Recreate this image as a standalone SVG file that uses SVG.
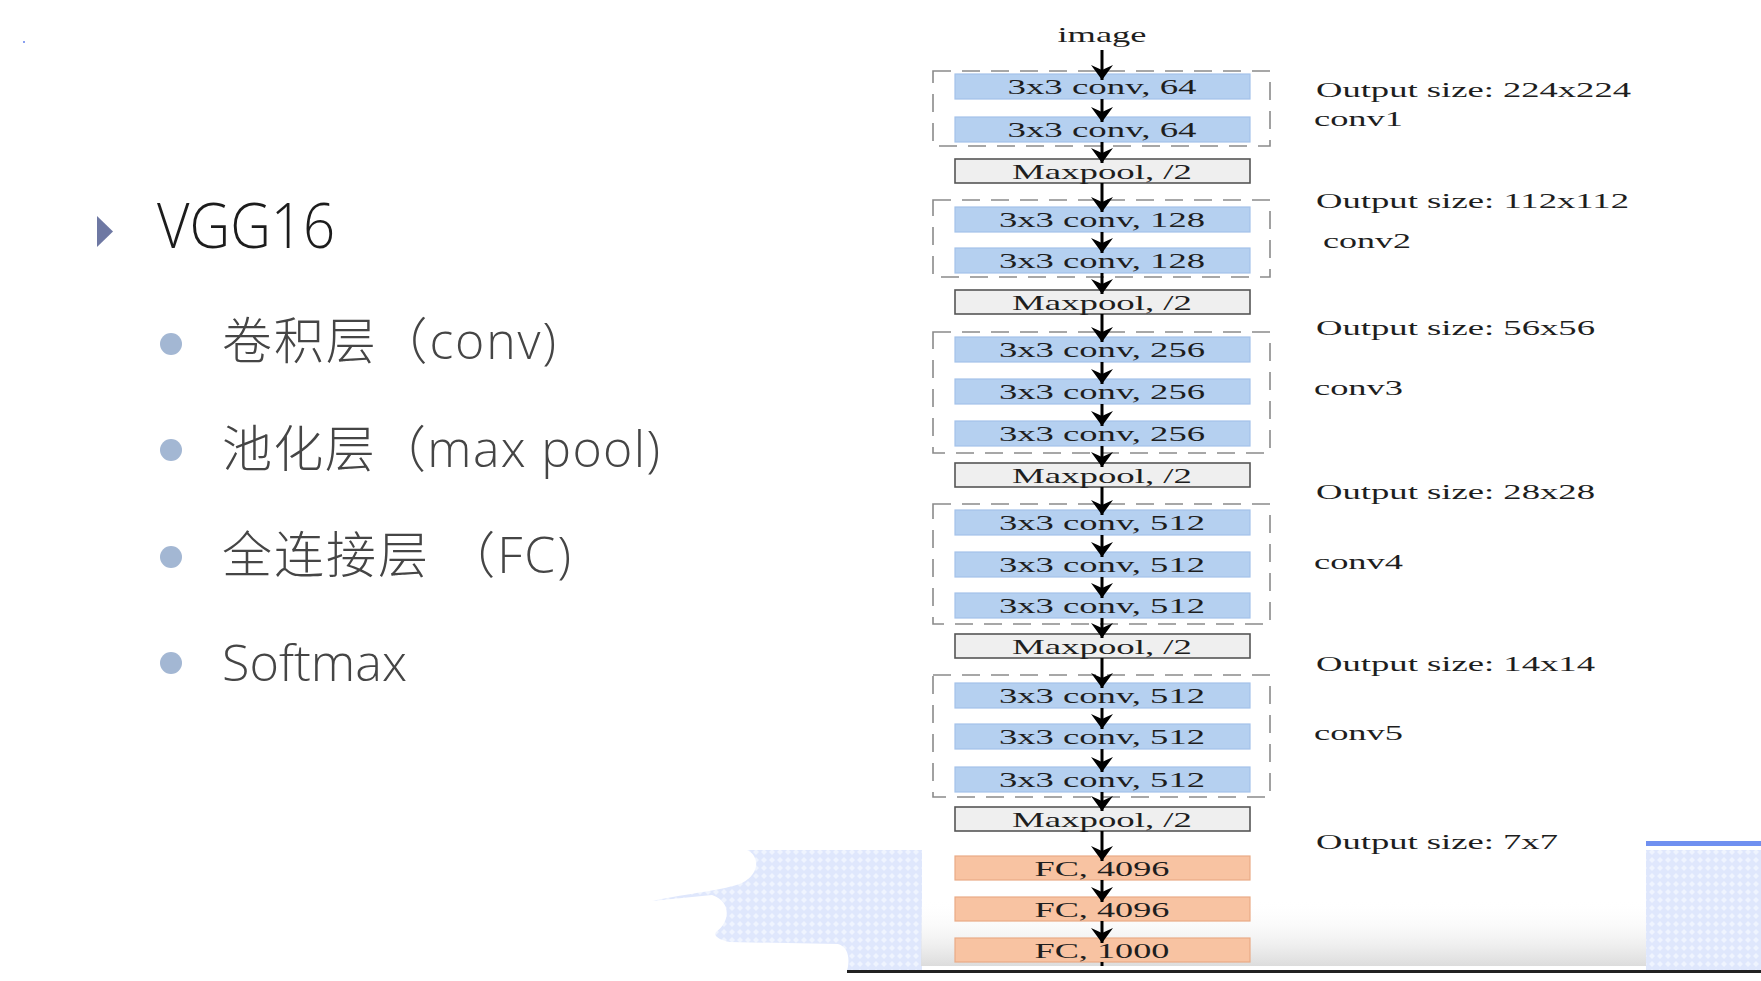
<svg xmlns="http://www.w3.org/2000/svg" width="1761" height="981" viewBox="0 0 1761 981">
<defs>
<style>
.title{font-family:"Open Sans","Noto Sans CJK SC",sans-serif;font-weight:300;font-size:62px;fill:#1c1c1c}
.item{font-family:"Open Sans","Noto Sans CJK SC",sans-serif;font-weight:300;font-size:50px;fill:#454545}
.bullet{fill:#a3b7d3}
.conv{fill:#b5d0f0;stroke:#a4c2ea;stroke-width:1.2}
.pool{fill:#efefef;stroke:#555;stroke-width:1.6}
.fc{fill:#f8c3a2;stroke:#e9ab86;stroke-width:1.2}
.bt{font-family:"Liberation Serif","Times New Roman",serif;font-size:22px;fill:#1e1e1e;text-anchor:middle}
.side{font-family:"Liberation Serif","Times New Roman",serif;font-size:21px;fill:#1e1e1e}
.grp{fill:none;stroke:#8a8a8a;stroke-width:1.6;stroke-dasharray:18 11}
.arr{stroke:#000;stroke-width:3;fill:none;marker-end:url(#ah)}
</style>
<marker id="ah" viewBox="0 0 15 22" refX="15" refY="11" markerWidth="15" markerHeight="22" markerUnits="userSpaceOnUse" orient="auto">
<path d="M0,0 L15,11 L0,22 L5,11 z" fill="#000"/>
</marker>
<pattern id="chk" width="8" height="8" patternUnits="userSpaceOnUse">
<rect width="8" height="8" fill="#dfe7fc"/>
<path d="M4,1 L7,4 L4,7 L1,4 z" fill="#eff4fe"/>
</pattern>
<linearGradient id="fade" x1="0" y1="0" x2="0" y2="1">
<stop offset="0" stop-color="#ffffff" stop-opacity="0"/>
<stop offset="1" stop-color="#dcdcdc" stop-opacity="1"/>
</linearGradient>
<clipPath id="panel"><rect x="921" y="0" width="725" height="966"/></clipPath>
</defs>
<rect width="1761" height="981" fill="#ffffff"/>
<rect x="23" y="41" width="2" height="2" fill="#8aa0f0"/>

<g id="background">
<path d="M747,850 L922,850 L922,971 L847,971 C850,960 849,947 838,944 L730,942 C720,940 713,936 716,932 C730,922 732,902 712,895 L652,901 C690,893 725,890 742,883 C760,874 760,856 747,850 Z" fill="url(#chk)"/>
<rect x="1646" y="841" width="115" height="5" fill="#7090f0"/>
<rect x="1646" y="850" width="115" height="121" fill="url(#chk)"/>
<rect x="921" y="900" width="725" height="66" fill="url(#fade)"/>
<rect x="847" y="970" width="914" height="3" fill="#222"/>
</g>

<g id="left-list">
<path d="M97,216 L113,231.5 L97,247 Z" fill="#6e78a3"/>
<text class="title" x="157" y="248" textLength="178" lengthAdjust="spacingAndGlyphs">VGG16</text>
<circle class="bullet" cx="171" cy="344" r="11"/>
<text class="item" x="222" y="359" textLength="334">卷积层（conv)</text>
<circle class="bullet" cx="171" cy="450" r="11"/>
<text class="item" x="222" y="467" textLength="438">池化层（max pool)</text>
<circle class="bullet" cx="171" cy="557" r="11"/>
<text class="item" x="222" y="573" textLength="349">全连接层 （FC)</text>
<circle class="bullet" cx="171" cy="663" r="11"/>
<text class="item" x="222" y="681" textLength="185" lengthAdjust="spacingAndGlyphs">Softmax</text>
</g>

<g clip-path="url(#panel)">
<g id="groups">
<rect class="grp" x="933" y="71" width="337" height="75"/>
<rect class="grp" x="933" y="200" width="337" height="77"/>
<rect class="grp" x="933" y="332" width="337" height="121"/>
<rect class="grp" x="933" y="504" width="337" height="120"/>
<rect class="grp" x="933" y="675" width="337" height="122"/>
</g>

<g id="image"><text class="bt" x="1102" y="42" textLength="89" lengthAdjust="spacingAndGlyphs">image</text></g>
<g id="conv1_1"><rect class="conv" x="955" y="74" width="295" height="25"/><text class="bt" x="1102" y="94" textLength="189" lengthAdjust="spacingAndGlyphs">3x3 conv, 64</text></g>
<g id="conv1_2"><rect class="conv" x="955" y="117" width="295" height="25"/><text class="bt" x="1102" y="137" textLength="189" lengthAdjust="spacingAndGlyphs">3x3 conv, 64</text></g>
<g id="pool1"><rect class="pool" x="955" y="159" width="295" height="24"/><text class="bt" x="1102" y="179" textLength="180" lengthAdjust="spacingAndGlyphs">Maxpool, /2</text></g>
<g id="conv2_1"><rect class="conv" x="955" y="207" width="295" height="25"/><text class="bt" x="1102" y="227" textLength="206" lengthAdjust="spacingAndGlyphs">3x3 conv, 128</text></g>
<g id="conv2_2"><rect class="conv" x="955" y="248" width="295" height="25"/><text class="bt" x="1102" y="268" textLength="206" lengthAdjust="spacingAndGlyphs">3x3 conv, 128</text></g>
<g id="pool2"><rect class="pool" x="955" y="290" width="295" height="24"/><text class="bt" x="1102" y="310" textLength="180" lengthAdjust="spacingAndGlyphs">Maxpool, /2</text></g>
<g id="conv3_1"><rect class="conv" x="955" y="337" width="295" height="25"/><text class="bt" x="1102" y="357" textLength="206" lengthAdjust="spacingAndGlyphs">3x3 conv, 256</text></g>
<g id="conv3_2"><rect class="conv" x="955" y="379" width="295" height="25"/><text class="bt" x="1102" y="399" textLength="206" lengthAdjust="spacingAndGlyphs">3x3 conv, 256</text></g>
<g id="conv3_3"><rect class="conv" x="955" y="421" width="295" height="25"/><text class="bt" x="1102" y="441" textLength="206" lengthAdjust="spacingAndGlyphs">3x3 conv, 256</text></g>
<g id="pool3"><rect class="pool" x="955" y="463" width="295" height="24"/><text class="bt" x="1102" y="483" textLength="180" lengthAdjust="spacingAndGlyphs">Maxpool, /2</text></g>
<g id="conv4_1"><rect class="conv" x="955" y="510" width="295" height="25"/><text class="bt" x="1102" y="530" textLength="206" lengthAdjust="spacingAndGlyphs">3x3 conv, 512</text></g>
<g id="conv4_2"><rect class="conv" x="955" y="552" width="295" height="25"/><text class="bt" x="1102" y="572" textLength="206" lengthAdjust="spacingAndGlyphs">3x3 conv, 512</text></g>
<g id="conv4_3"><rect class="conv" x="955" y="593" width="295" height="25"/><text class="bt" x="1102" y="613" textLength="206" lengthAdjust="spacingAndGlyphs">3x3 conv, 512</text></g>
<g id="pool4"><rect class="pool" x="955" y="634" width="295" height="24"/><text class="bt" x="1102" y="654" textLength="180" lengthAdjust="spacingAndGlyphs">Maxpool, /2</text></g>
<g id="conv5_1"><rect class="conv" x="955" y="683" width="295" height="25"/><text class="bt" x="1102" y="703" textLength="206" lengthAdjust="spacingAndGlyphs">3x3 conv, 512</text></g>
<g id="conv5_2"><rect class="conv" x="955" y="724" width="295" height="25"/><text class="bt" x="1102" y="744" textLength="206" lengthAdjust="spacingAndGlyphs">3x3 conv, 512</text></g>
<g id="conv5_3"><rect class="conv" x="955" y="767" width="295" height="25"/><text class="bt" x="1102" y="787" textLength="206" lengthAdjust="spacingAndGlyphs">3x3 conv, 512</text></g>
<g id="pool5"><rect class="pool" x="955" y="807" width="295" height="24"/><text class="bt" x="1102" y="827" textLength="180" lengthAdjust="spacingAndGlyphs">Maxpool, /2</text></g>
<g id="fc6"><rect class="fc" x="955" y="856" width="295" height="24"/><text class="bt" x="1102" y="876" textLength="135" lengthAdjust="spacingAndGlyphs">FC, 4096</text></g>
<g id="fc7"><rect class="fc" x="955" y="897" width="295" height="24"/><text class="bt" x="1102" y="917" textLength="135" lengthAdjust="spacingAndGlyphs">FC, 4096</text></g>
<g id="fc8"><rect class="fc" x="955" y="938" width="295" height="24"/><text class="bt" x="1102" y="958" textLength="135" lengthAdjust="spacingAndGlyphs">FC, 1000</text></g>

<g id="connectors">
<line class="arr" x1="1102" y1="50" x2="1102" y2="80"/>
<line class="arr" x1="1102" y1="99" x2="1102" y2="122"/>
<line class="arr" x1="1102" y1="142" x2="1102" y2="163"/>
<line class="arr" x1="1102" y1="183" x2="1102" y2="212"/>
<line class="arr" x1="1102" y1="232" x2="1102" y2="253"/>
<line class="arr" x1="1102" y1="273" x2="1102" y2="294"/>
<line class="arr" x1="1102" y1="314" x2="1102" y2="342"/>
<line class="arr" x1="1102" y1="362" x2="1102" y2="384"/>
<line class="arr" x1="1102" y1="404" x2="1102" y2="426"/>
<line class="arr" x1="1102" y1="446" x2="1102" y2="467"/>
<line class="arr" x1="1102" y1="487" x2="1102" y2="515"/>
<line class="arr" x1="1102" y1="535" x2="1102" y2="557"/>
<line class="arr" x1="1102" y1="577" x2="1102" y2="598"/>
<line class="arr" x1="1102" y1="618" x2="1102" y2="638"/>
<line class="arr" x1="1102" y1="658" x2="1102" y2="688"/>
<line class="arr" x1="1102" y1="708" x2="1102" y2="729"/>
<line class="arr" x1="1102" y1="749" x2="1102" y2="772"/>
<line class="arr" x1="1102" y1="792" x2="1102" y2="811"/>
<line class="arr" x1="1102" y1="831" x2="1102" y2="861"/>
<line class="arr" x1="1102" y1="880" x2="1102" y2="902"/>
<line class="arr" x1="1102" y1="921" x2="1102" y2="943"/>
<line class="arr" x1="1102" y1="962" x2="1102" y2="984"/>
</g>
</g>

<g id="side-labels">
<text class="side" x="1316" y="97" textLength="315" lengthAdjust="spacingAndGlyphs">Output size: 224x224</text>
<text class="side" x="1314" y="126" textLength="89" lengthAdjust="spacingAndGlyphs">conv1</text>
<text class="side" x="1316" y="208" textLength="313" lengthAdjust="spacingAndGlyphs">Output size: 112x112</text>
<text class="side" x="1323" y="248" textLength="88" lengthAdjust="spacingAndGlyphs">conv2</text>
<text class="side" x="1316" y="335" textLength="279" lengthAdjust="spacingAndGlyphs">Output size: 56x56</text>
<text class="side" x="1314" y="395" textLength="89" lengthAdjust="spacingAndGlyphs">conv3</text>
<text class="side" x="1316" y="499" textLength="279" lengthAdjust="spacingAndGlyphs">Output size: 28x28</text>
<text class="side" x="1314" y="569" textLength="89" lengthAdjust="spacingAndGlyphs">conv4</text>
<text class="side" x="1316" y="671" textLength="279" lengthAdjust="spacingAndGlyphs">Output size: 14x14</text>
<text class="side" x="1314" y="740" textLength="89" lengthAdjust="spacingAndGlyphs">conv5</text>
<text class="side" x="1316" y="849" textLength="242" lengthAdjust="spacingAndGlyphs">Output size: 7x7</text>
</g>
</svg>
